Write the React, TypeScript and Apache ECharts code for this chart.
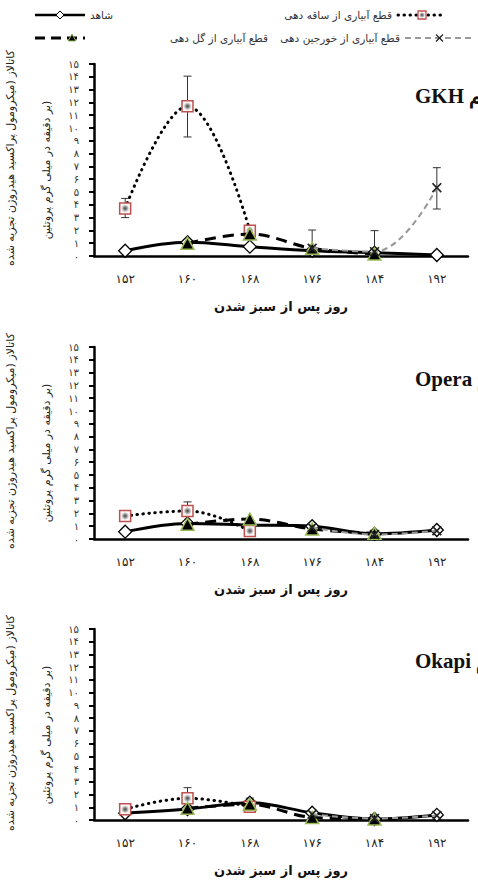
import React, { useEffect, useRef } from 'react';
import * as echarts from 'echarts';

const categories = ['152', '160', '168', '176', '184', '192'];
const xTickLabels = ['۱۵۲', '۱۶۰', '۱۶۸', '۱۷۶', '۱۸۴', '۱۹۲'];
const yTickLabels = ['۰', '۱', '۲', '۳', '۴', '۵', '۶', '۷', '۸', '۹', '۱۰', '۱۱', '۱۲', '۱۳', '۱۴', '۱۵'];
const cultivarNames = ['GKH رقم', 'Opera رقم', 'Okapi رقم'];
const seriesNames = ['شاهد', 'قطع آبیاری از ساقه دهی', 'قطع آبیاری از گل دهی', 'قطع آبیاری از خورجین دهی'];
const xAxisTitle = 'روز پس از سبز شدن';
const yTitle1 = 'کاتالاز (میکرومول پراکسید هیدروژن تجزیه شده';
const yTitle2 = 'بر دقیقه در میلی گرم پروتئین)';

// GKH
const controlGKH = [0.41, 1.07, 0.73, 0.41, 0.26, 0.08];
const stemGKH = [3.72, 11.7, 1.98, null, null, null];
const flowerGKH = [null, 0.99, 1.72, 0.6, 0.16, null];
const podGKH = [null, null, null, 0.6, 0.34, 5.34];
const errGKH = [[0, 3.0, 4.5], [1, 9.3, 14.05], [3, 0.6, 2.03], [4, 0.3, 1.98], [5, 3.67, 6.9]];
// Opera
const controlOpera = [0.57, 1.22, 1.09, 1.0, 0.4, 0.7];
const stemOpera = [1.8, 2.19, 0.63, null, null, null];
const flowerOpera = [null, 1.15, 1.56, 0.78, 0.44, null];
const podOpera = [null, null, null, 0.9, 0.35, 0.65];
const errOpera = [[1, 2.19, 2.9]];
// Okapi
const controlOkapi = [0.53, 0.86, 1.36, 0.57, 0.08, 0.4];
const stemOkapi = [0.84, 1.7, 1.05, null, null, null];
const flowerOkapi = [null, 0.92, 1.23, 0.2, 0.08, null];
const podOkapi = [null, null, null, 0.45, 0.12, 0.35];
const errOkapi = [[1, 1.7, 2.54], [2, 1.23, 1.72]];

const panels = [
  { control: controlGKH, stem: stemGKH, flower: flowerGKH, pod: podGKH, err: errGKH },
  { control: controlOpera, stem: stemOpera, flower: flowerOpera, pod: podOpera, err: errOpera },
  { control: controlOkapi, stem: stemOkapi, flower: flowerOkapi, pod: podOkapi, err: errOkapi },
];

const gridTops = [64, 347, 629];
const gridHeights = [192, 192, 191];
const GRID_LEFT = 94;
const GRID_WIDTH = 374;
const FA = '"DejaVu Sans", sans-serif';
const RED = '#c0504d';
const GREEN = '#9bbb59';
const XPATH = 'path://M0,1.2 L1.2,0 L5,3.8 L8.8,0 L10,1.2 L6.2,5 L10,8.8 L8.8,10 L5,6.2 L1.2,10 L0,8.8 L3.8,5 Z';

function squareFill() {
  return new echarts.graphic.RadialGradient(0.5, 0.5, 0.5, [
    { offset: 0, color: '#444' },
    { offset: 0.35, color: '#999' },
    { offset: 0.7, color: '#f4f4f4' },
    { offset: 1, color: '#fff' },
  ]);
}

function buildOption() {
  const grid: any[] = [];
  const xAxis: any[] = [];
  const yAxis: any[] = [];
  const series: any[] = [];
  const graphic: any[] = [];

  panels.forEach((p, i) => {
    grid.push({ left: GRID_LEFT, top: gridTops[i], width: GRID_WIDTH, height: gridHeights[i] });
    xAxis.push({
      type: 'category',
      gridIndex: i,
      data: categories,
      boundaryGap: true,
      axisLine: { lineStyle: { color: '#000', width: 2.5 } },
      axisTick: { alignWithLabel: true, length: 5, lineStyle: { color: '#000', width: 2 } },
      axisLabel: {
        margin: 17,
        fontSize: 12,
        color: '#222',
        fontFamily: FA,
        formatter: (v: string, idx: number) => xTickLabels[idx],
      },
      name: xAxisTitle,
      nameLocation: 'middle',
      nameGap: 44,
      nameTextStyle: { fontSize: 13, fontWeight: 'bold', color: '#111', fontFamily: FA },
      splitLine: { show: false },
    });
    yAxis.push({
      type: 'value',
      gridIndex: i,
      min: 0,
      max: 15,
      interval: 1,
      axisLine: { show: true, lineStyle: { color: '#000', width: 2.5 } },
      axisTick: { show: true, length: 5, lineStyle: { color: '#000', width: 2 } },
      axisLabel: {
        margin: 15,
        fontSize: 10,
        color: '#333',
        fontFamily: FA,
        formatter: (v: number) => yTickLabels[Math.round(v)],
      },
      splitLine: { show: false },
    });

    series.push({
      type: 'custom',
      name: 'err' + i,
      xAxisIndex: i,
      yAxisIndex: i,
      z: 1,
      encode: { x: 0, y: [1, 2] },
      data: p.err,
      renderItem: (params: any, api: any) => {
        const x = api.value(0);
        const lo = api.coord([x, api.value(1)]);
        const hi = api.coord([x, api.value(2)]);
        const w = 4;
        const st = { stroke: '#333', lineWidth: 1 };
        return {
          type: 'group',
          children: [
            { type: 'line', shape: { x1: lo[0], y1: lo[1], x2: hi[0], y2: hi[1] }, style: st },
            { type: 'line', shape: { x1: hi[0] - w, y1: hi[1], x2: hi[0] + w, y2: hi[1] }, style: st },
            { type: 'line', shape: { x1: lo[0] - w, y1: lo[1], x2: lo[0] + w, y2: lo[1] }, style: st },
          ],
        };
      },
    });

    series.push({
      type: 'line',
      name: seriesNames[0],
      xAxisIndex: i,
      yAxisIndex: i,
      data: p.control,
      smooth: 0.35,
      z: 3,
      symbol: 'diamond',
      symbolSize: [13, 13],
      lineStyle: { color: '#000', width: 3 },
      itemStyle: { color: '#fff', borderColor: '#000', borderWidth: 1.3 },
    });
    series.push({
      type: 'line',
      name: seriesNames[1],
      xAxisIndex: i,
      yAxisIndex: i,
      data: p.stem,
      smooth: 0.4,
      z: 4,
      symbol: 'rect',
      symbolSize: 11,
      lineStyle: { color: '#000', width: 3, type: [0.5, 5.5], cap: 'round' },
      itemStyle: { color: squareFill(), borderColor: RED, borderWidth: 1.5 },
    });
    series.push({
      type: 'line',
      name: seriesNames[2],
      xAxisIndex: i,
      yAxisIndex: i,
      data: p.flower,
      smooth: 0.35,
      z: 5,
      symbol: 'triangle',
      symbolSize: [13, 12],
      lineStyle: { color: '#000', width: 3, type: [11, 7] },
      itemStyle: { color: '#000', borderColor: GREEN, borderWidth: 1.5 },
    });
    series.push({
      type: 'line',
      name: seriesNames[3],
      xAxisIndex: i,
      yAxisIndex: i,
      data: p.pod,
      smooth: 0.4,
      z: 6,
      symbol: XPATH,
      symbolSize: 10,
      lineStyle: { color: '#999', width: 2, type: [6, 4] },
      itemStyle: { color: '#222', borderWidth: 0 },
    });

    graphic.push({
      type: 'text',
      x: 415,
      y: gridTops[i] + 32,
      style: {
        text: cultivarNames[i],
        font: 'bold 21px "Liberation Serif", serif',
        fill: '#111',
        align: 'left',
        verticalAlign: 'middle',
        textAlign: 'left',
        textVerticalAlign: 'middle',
      },
    });
    const cy = gridTops[i] + 94;
    graphic.push({
      type: 'text',
      x: 10,
      y: cy,
      rotation: Math.PI / 2,
      style: {
        text: yTitle1,
        font: '11px ' + FA,
        fill: '#222',
        align: 'center',
        verticalAlign: 'middle',
        textAlign: 'center',
        textVerticalAlign: 'middle',
      },
    });
    graphic.push({
      type: 'text',
      x: 46,
      y: cy + 12,
      rotation: Math.PI / 2,
      style: {
        text: yTitle2,
        font: '11px ' + FA,
        fill: '#222',
        align: 'center',
        verticalAlign: 'middle',
        textAlign: 'center',
        textVerticalAlign: 'middle',
      },
    });
  });

  // legend (drawn manually)
  const txt = (x: number, y: number, t: string, align: string) => ({
    type: 'text',
    x,
    y,
    style: {
      text: t,
      font: '10.5px ' + FA,
      fill: '#333',
      align,
      verticalAlign: 'middle',
      textAlign: align,
      textVerticalAlign: 'middle',
    },
  });
  const r1 = 15;
  const r2 = 38;
  // control
  graphic.push({ type: 'line', shape: { x1: 35, y1: r1, x2: 85, y2: r1 }, style: { stroke: '#000', lineWidth: 2.5 } });
  graphic.push({
    type: 'polygon',
    shape: { points: [[60, r1 - 4], [64, r1], [60, r1 + 4], [56, r1]] },
    style: { fill: '#fff', stroke: '#000', lineWidth: 1 },
  });
  graphic.push(txt(90, r1, seriesNames[0], 'left'));
  // stem
  graphic.push(txt(392, r1, seriesNames[1], 'right'));
  graphic.push({
    type: 'line',
    shape: { x1: 398, y1: r1, x2: 446, y2: r1 },
    style: { stroke: '#000', lineWidth: 3, lineDash: [0.5, 5.5], lineCap: 'round' },
  });
  graphic.push({
    type: 'rect',
    shape: { x: 418, y: r1 - 4, width: 8, height: 8 },
    style: { fill: squareFill(), stroke: RED, lineWidth: 1.3 },
  });
  // flower
  graphic.push({
    type: 'line',
    shape: { x1: 35, y1: r2, x2: 85, y2: r2 },
    style: { stroke: '#000', lineWidth: 3, lineDash: [10, 6] },
  });
  graphic.push({
    type: 'polygon',
    shape: { points: [[72, r2 - 4], [76, r2 + 3], [68, r2 + 3]] },
    style: { fill: '#000', stroke: GREEN, lineWidth: 1 },
  });
  graphic.push(txt(268, r2, seriesNames[2], 'right'));
  // pod
  graphic.push(txt(400, r2, seriesNames[3], 'right'));
  graphic.push({
    type: 'line',
    shape: { x1: 405, y1: r2, x2: 474, y2: r2 },
    style: { stroke: '#999', lineWidth: 2, lineDash: [6, 4] },
  });
  graphic.push({ type: 'line', shape: { x1: 436, y1: r2 - 3.5, x2: 443, y2: r2 + 3.5 }, style: { stroke: '#222', lineWidth: 1.3 } });
  graphic.push({ type: 'line', shape: { x1: 443, y1: r2 - 3.5, x2: 436, y2: r2 + 3.5 }, style: { stroke: '#222', lineWidth: 1.3 } });

  return {
    animation: false,
    backgroundColor: '#fff',
    grid,
    xAxis,
    yAxis,
    series,
    graphic,
  };
}

export default function App() {
  const ref = useRef<HTMLDivElement>(null);
  useEffect(() => {
    if (!ref.current) return;
    const chart = echarts.init(ref.current, undefined, { renderer: 'svg' });
    chart.setOption(buildOption() as any);
    return () => chart.dispose();
  }, []);
  return (
    <div
      ref={ref}
      style={{ position: 'absolute', left: 0, top: 0, width: 478, height: 885, background: '#fff' }}
    />
  );
}
